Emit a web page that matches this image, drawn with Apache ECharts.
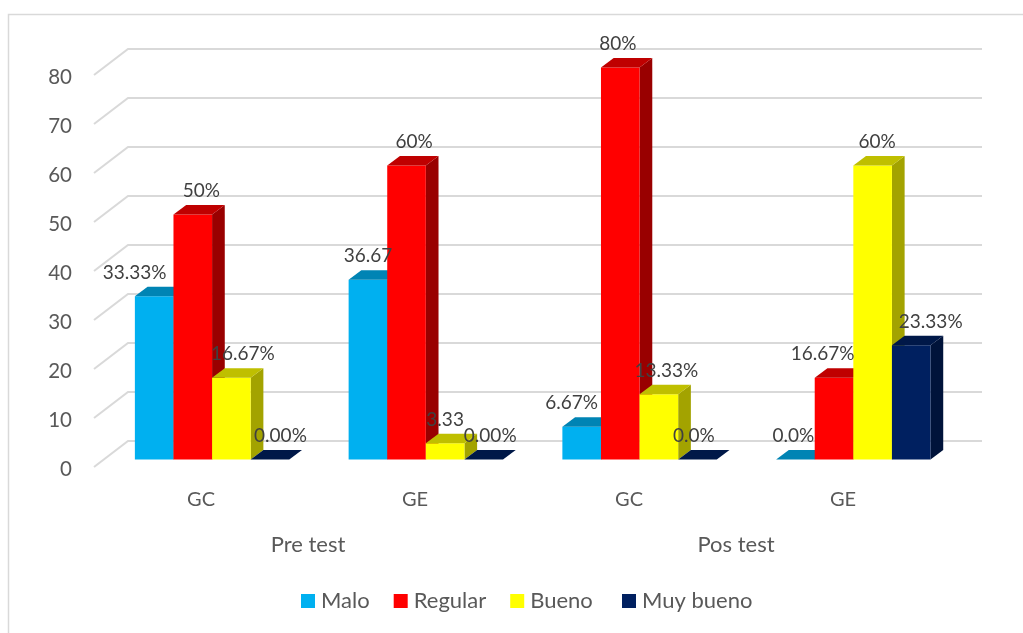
<!DOCTYPE html>
<html>
<head>
<meta charset="utf-8">
<style>html,body{margin:0;padding:0;background:#fff}#c{width:1023px;height:633px}</style>
<script src="https://cdn.jsdelivr.net/npm/echarts@6/dist/echarts.min.js"></script>
</head>
<body>
<div id="c"></div>
<script>
const groups = ['GC', 'GE', 'GC', 'GE'];
const phases = ['Pre test', 'Pos test'];
const yTicks = [0, 10, 20, 30, 40, 50, 60, 70, 80];

const malo = [33.33, 36.67, 6.67, 0];
const regular = [50, 60, 80, 16.67];
const bueno = [16.67, 3.33, 13.33, 60];
const muyBueno = [0, 0, 0, 23.33];

const maloLabels = ['33.33%', '36.67', '6.67%', '0.0%'];
const regularLabels = ['50%', '60%', '80%', '16.67%'];
const buenoLabels = ['16.67%', '3.33', '13.33%', '60%'];
const muyBuenoLabels = ['0.00%', '0.00%', '0.0%', '23.33%'];

// Hand-placed label nudges of the reference (layout only, px from bar centre)
const maloNudge = [-19.5, 0, -10, -2];
const regularNudge = [8.5, 7.5, -2.5, -11.5];
const buenoNudge = [11.5, 0, 7.5, 4.5];
const muyBuenoNudge = [10.5, 6.5, -3.5, 19.5];

const FONT = 'Lato, Carlito, Calibri, sans-serif';
const DEPTH_X = 12.7, DEPTH_Y = 9.5, WALL_X = 34, WALL_Y = 26;
const BAR_W = 38.6, BAR_COUNT = 4;

function barSeries(name, idx, values, labels, nudges, front, top, side) {
  return {
    type: 'custom',
    name: name,
    coordinateSystem: 'cartesian2d',
    xAxisIndex: 2,
    yAxisIndex: 1,
    itemStyle: { color: front },
    data: values.map((v, i) => [i, v, labels[i], nudges[i]]),
    encode: { x: 0, y: 1 },
    renderItem: function (params, api) {
      const cat = api.value(0), val = api.value(1);
      const base = api.coord([cat, 0]);
      const tip = api.coord([cat, val]);
      const x0 = base[0] + (idx - BAR_COUNT / 2) * BAR_W;
      const x1 = x0 + BAR_W;
      const yB = base[1], yT = tip[1];
      const poly = (pts, fill, z2) => ({ type: 'polygon', z2: z2, shape: { points: pts }, style: { fill: fill } });
      const children = [];
      if (val > 0) {
        children.push(poly([[x1, yT], [x1 + DEPTH_X, yT - DEPTH_Y], [x1 + DEPTH_X, yB - DEPTH_Y], [x1, yB]], side, 1));
        children.push(poly([[x0, yB], [x1, yB], [x1, yT], [x0, yT]], front, 2));
      }
      children.push(poly([[x0, yT], [x1, yT], [x1 + DEPTH_X, yT - DEPTH_Y], [x0 + DEPTH_X, yT - DEPTH_Y]], top, 2));
      children.push({
        type: 'text', z2: 100,
        style: {
          text: labels[params.dataIndex],
          x: (x0 + x1) / 2 + nudges[params.dataIndex], y: yT - 23.5,
          align: 'center', verticalAlign: 'middle',
          font: '19px ' + FONT, fill: '#404040'
        }
      });
      return { type: 'group', children: children };
    }
  };
}

const legendBase = {
  top: 590, padding: 0, icon: 'rect', itemWidth: 14, itemHeight: 14, itemGap: 24,
  textStyle: { fontFamily: FONT, fontSize: 22, color: '#595959', padding: [0, 0, 0, 1] },
  selectedMode: false
};

const option = {
  animation: false,
  backgroundColor: '#fff',
  textStyle: { fontFamily: FONT },
  graphic: [{
    type: 'rect', silent: true, z: -1,
    shape: { x: 8.5, y: 14.5, width: 1100, height: 700 },
    style: { fill: 'none', stroke: '#d9d9d9', lineWidth: 1.5 }
  }],
  legend: [
    Object.assign({}, legendBase, { left: 301, data: ['Malo', 'Regular', 'Bueno'] }),
    Object.assign({}, legendBase, { left: 622, data: ['Muy bueno'] })
  ],
  grid: [
    { left: 94, width: 856, top: 75, height: 392 },
    { left: 105.2, width: 855, top: 67.5, height: 392 },
    { left: 94, width: 856, top: 77.5, height: 392 }
  ],
  xAxis: [
    { gridIndex: 0, type: 'category', data: groups, position: 'bottom',
      axisLine: { show: false }, axisTick: { show: false },
      axisLabel: { fontFamily: FONT, fontSize: 20, color: '#595959', margin: 23 } },
    { gridIndex: 0, type: 'category', data: phases, position: 'bottom', offset: 44,
      axisLine: { show: false }, axisTick: { show: false },
      axisLabel: { fontFamily: FONT, fontSize: 22, color: '#595959', margin: 23 } },
    { gridIndex: 1, type: 'category', data: groups, show: false },
    { gridIndex: 2, type: 'category', data: groups, show: false }
  ],
  yAxis: [
    { gridIndex: 0, type: 'value', min: 0, max: 80, interval: 10, show: false, splitLine: { show: false } },
    { gridIndex: 1, type: 'value', min: 0, max: 80, interval: 10, show: false, splitLine: { show: false } },
    { gridIndex: 2, type: 'value', min: 0, max: 80, interval: 10,
      axisLine: { show: false }, axisTick: { show: false }, splitLine: { show: false },
      axisLabel: { fontFamily: FONT, fontSize: 20.5, color: '#595959', margin: 22 } }
  ],
  series: [
    {
      type: 'custom',
      coordinateSystem: 'cartesian2d',
      xAxisIndex: 0,
      yAxisIndex: 0,
      silent: true,
      z: 0,
      data: yTicks.map(t => [0, t]),
      encode: { y: 1 },
      renderItem: function (params, api) {
        const y = api.coord([0, api.value(1)])[1];
        const x = params.coordSys.x;
        const xEnd = x + params.coordSys.width + WALL_X - 2;
        return {
          type: 'polyline',
          shape: { points: [[x, y], [x + WALL_X, y - WALL_Y], [xEnd, y - WALL_Y]] },
          style: { fill: 'none', stroke: '#d9d9d9', lineWidth: 2 }
        };
      }
    },
    barSeries('Malo', 0, malo, maloLabels, maloNudge, '#00b0f0', '#0084b4', '#006a90'),
    barSeries('Regular', 1, regular, regularLabels, regularNudge, '#ff0000', '#bf0000', '#990000'),
    barSeries('Bueno', 2, bueno, buenoLabels, buenoNudge, '#ffff00', '#bfbf00', '#a3a300'),
    barSeries('Muy bueno', 3, muyBueno, muyBuenoLabels, muyBuenoNudge, '#002060', '#001848', '#00133a')
  ]
};
const chart = echarts.init(document.getElementById('c'), null, { renderer: 'canvas' });
chart.setOption(option);
</script>
</body>
</html>
